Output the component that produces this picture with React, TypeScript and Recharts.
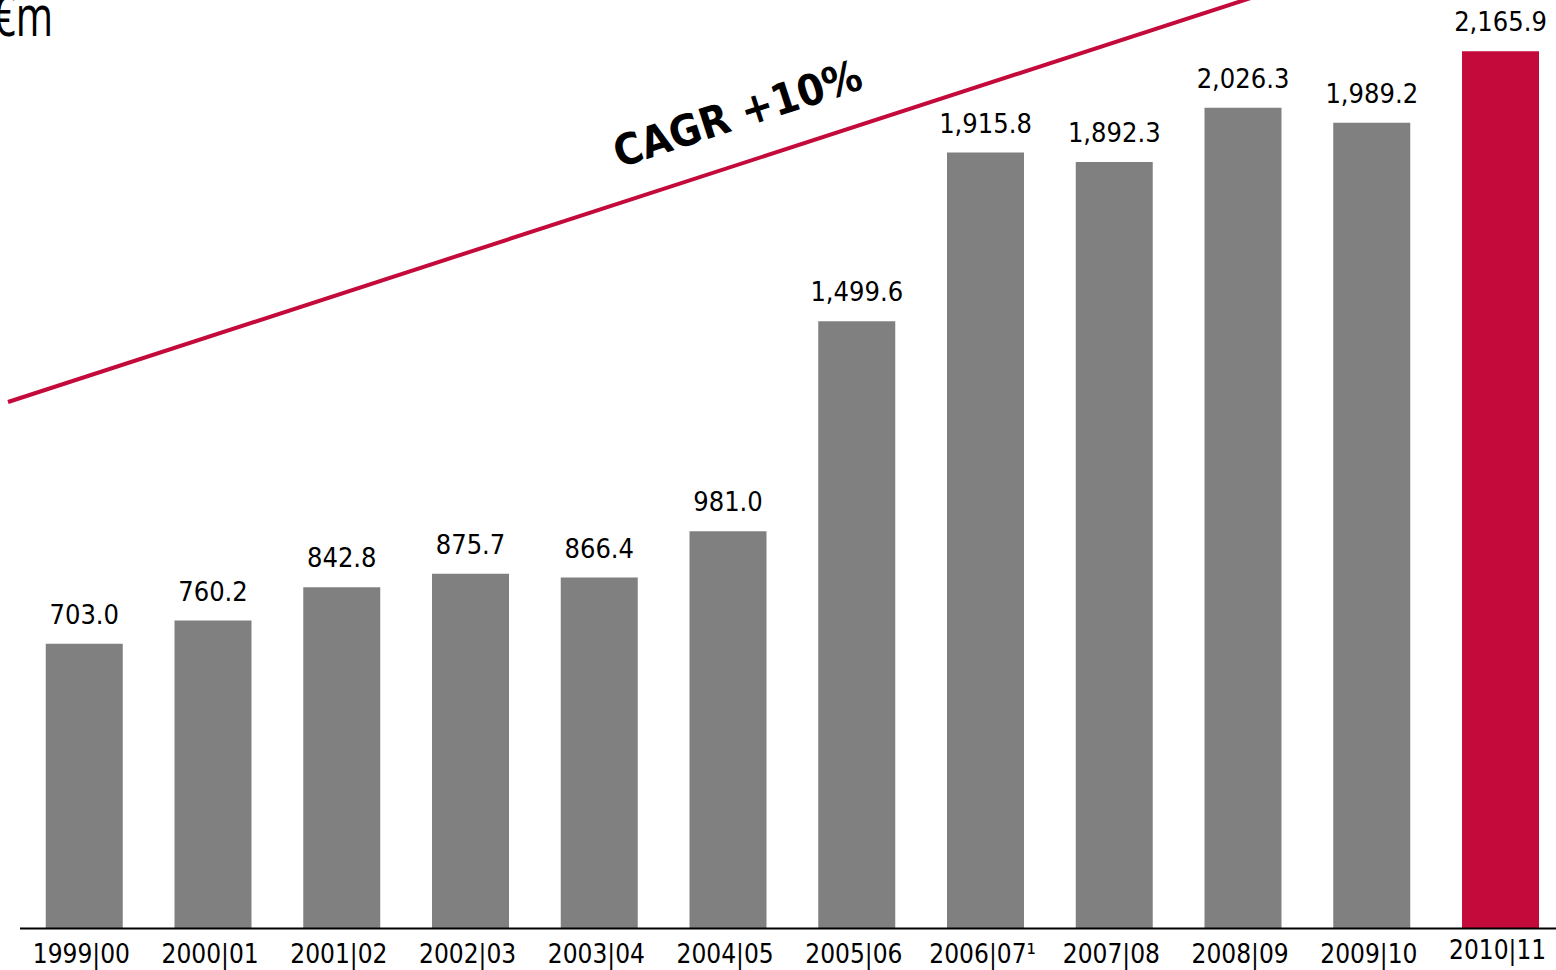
import React from 'react';
import { BarChart, Bar, XAxis, YAxis, Cell, LabelList } from 'recharts';

const periods = [
  '1999|00', '2000|01', '2001|02', '2002|03', '2003|04', '2004|05',
  '2005|06', '2006|07¹', '2007|08', '2008|09', '2009|10', '2010|11',
];
const revenue = [703.0, 760.2, 842.8, 875.7, 866.4, 981.0, 1499.6, 1915.8, 1892.3, 2026.3, 1989.2, 2165.9];
const highlightPeriod = '2010|11';

const GREY = '#808080';
const RED = '#C30A3A';
const FONT = '"DejaVu Sans Condensed", "DejaVu Sans", sans-serif';

const data = periods.map((period, i) => ({ period, value: revenue[i] }));

const fmt = (v: number) =>
  v.toLocaleString('en-US', { minimumFractionDigits: 1, maximumFractionDigits: 1 });

const PeriodTick = (props: any) => {
  const { x, y, payload } = props;
  const lift = payload.value === highlightPeriod ? -4 : 0;
  return (
    <text x={x - 3} y={y + lift} dy="0.71em" textAnchor="middle" fontSize={26} fontFamily={FONT} fill="#000">
      {payload.value}
    </text>
  );
};

const App: React.FC = () => {
  return (
    <div style={{ position: 'absolute', left: 0, top: 0, width: 1556, height: 970, overflow: 'hidden', background: '#fff' }}>
      <BarChart
        width={1570}
        height={970}
        data={data}
        margin={{ top: 37.5, right: 5, left: 20, bottom: 11.5 }}
        barCategoryGap="20%"
      >
        <YAxis hide domain={[0, 2200]} />
        <XAxis
          dataKey="period"
          interval={0}
          height={30}
          tickLine={false}
          tickMargin={10}
          axisLine={{ stroke: '#000', strokeWidth: 2 }}
          tick={<PeriodTick />}
        />
        <Bar dataKey="value" isAnimationActive={false}>
          {data.map((d) => (
            <Cell key={d.period} fill={d.period === highlightPeriod ? RED : GREY} />
          ))}
          <LabelList
            dataKey="value"
            position="top"
            offset={20}
            formatter={(v: any) => fmt(Number(v))}
            fontSize={27}
            fontFamily={FONT}
            fill="#000"
          />
        </Bar>
      </BarChart>
      <svg
        width={1556}
        height={970}
        style={{ position: 'absolute', left: 0, top: 0, pointerEvents: 'none', overflow: 'hidden' }}
      >
        <line x1={8} y1={402} x2={1300} y2={-18} stroke={RED} strokeWidth={4} />
        <text
          x={742}
          y={128}
          textAnchor="middle"
          fontSize={43}
          fontWeight="bold"
          fontFamily={FONT}
          fill="#000"
          transform="rotate(-18 742 128)"
        >
          CAGR +10%
        </text>
        <text x={53} y={36} textAnchor="end" fontSize={56} fontFamily='"Open Sans", sans-serif' fill="#000" transform="translate(53 0) scale(0.72 1) translate(-53 0)">
          €m
        </text>
      </svg>
    </div>
  );
};

export default App;
